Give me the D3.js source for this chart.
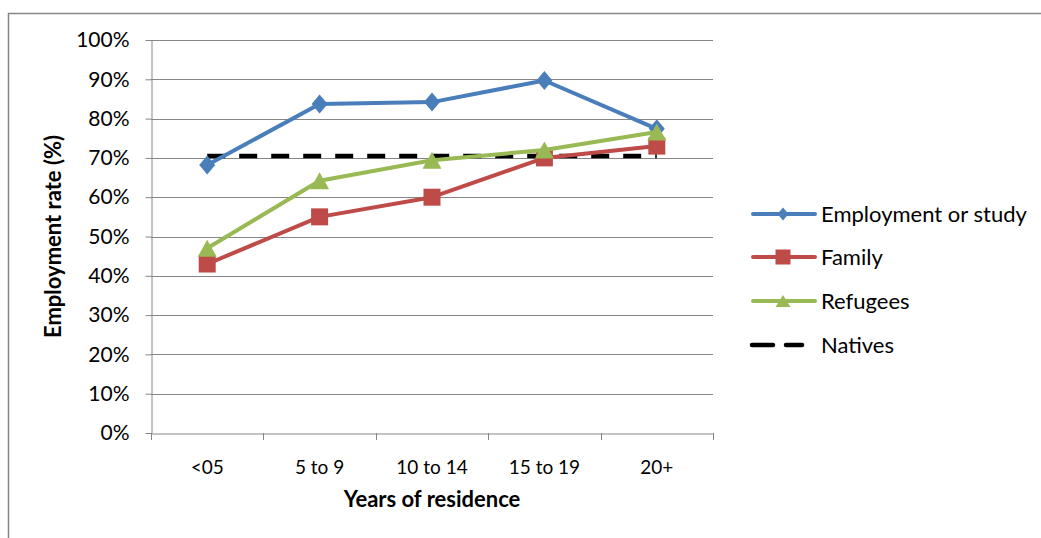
<!DOCTYPE html>
<html><head><meta charset="utf-8">
<script src="https://cdn.jsdelivr.net/npm/d3@7"></script>
<style>html,body{margin:0;padding:0;background:#fff;}svg{display:block;font-family:Lato,"Open Sans",sans-serif;}</style>
</head><body>
<svg id="c" width="1041" height="538"></svg>
<script>
const categories = ["<05", "5 to 9", "10 to 14", "15 to 19", "20+"];
const employmentOrStudy = [68.2, 83.7, 84.2, 89.7, 77.4];
const family = [43.0, 55.0, 60.0, 70.0, 73.0];
const refugees = [47.0, 64.2, 69.4, 72.0, 76.6];
const natives = [70.5, 70.5, 70.5, 70.5, 70.5];
const yTicks = [0, 10, 20, 30, 40, 50, 60, 70, 80, 90, 100];
const seriesNames = ["Employment or study", "Family", "Refugees", "Natives"];

const series = [
  {name: seriesNames[0], values: employmentOrStudy, color: "#4A7EBB", marker: "diamond"},
  {name: seriesNames[1], values: family, color: "#BE4B48", marker: "square"},
  {name: seriesNames[2], values: refugees, color: "#98B954", marker: "triangle"},
  {name: seriesNames[3], values: natives, color: "#000000", marker: null, dash: "18,14"}
];

const svg = d3.select("#c");
svg.append("path").attr("d", "M8.5,538 V13.5 H1041").attr("fill", "none").attr("stroke", "#878787").attr("stroke-width", 1.5);

const L = 151, R = 713, T = 40, B = 433;
const x = d3.scaleBand().domain(categories).range([L, R]);
const y = d3.scaleLinear().domain([0, 100]).range([B, T]);
const cx = c => x(c) + x.bandwidth() / 2;

svg.append("g").selectAll("line").data(yTicks.filter(t => t > 0)).join("line")
  .attr("x1", L).attr("x2", R).attr("y1", d => Math.round(y(d)) + 0.5).attr("y2", d => Math.round(y(d)) + 0.5)
  .attr("stroke", "#868686").attr("stroke-width", 1);

const ya = svg.append("g").attr("transform", `translate(${L + 0.5},0)`)
  .call(d3.axisLeft(y).tickValues(yTicks).tickFormat(d => d + "%").tickSize(6).tickSizeOuter(0));
ya.select(".domain").attr("stroke", "#868686");
ya.selectAll(".tick line").attr("stroke", "#868686");
ya.selectAll(".tick text").attr("font-size", 21).attr("fill", "#000").attr("x", -22).attr("font-family", "Lato, sans-serif");

const xa = svg.append("g").attr("transform", `translate(0,${B + 0.5})`)
  .call(d3.axisBottom(x).tickSize(0).tickSizeOuter(0));
xa.select(".domain").attr("stroke", "#868686");
xa.selectAll(".tick text").attr("font-size", 19).attr("fill", "#000").attr("dy", 0).attr("y", 40).attr("font-family", "Lato, sans-serif");
const bounds = categories.map(c => x(c)).concat([R]);
svg.append("g").selectAll("line").data(bounds).join("line")
  .attr("x1", d => Math.round(d) + 0.5).attr("x2", d => Math.round(d) + 0.5)
  .attr("y1", B).attr("y2", B + 7).attr("stroke", "#868686");

svg.append("text").attr("x", (L + R) / 2).attr("y", 507).attr("text-anchor", "middle")
  .attr("font-size", 22).attr("font-weight", "bold").text("Years of residence");
svg.append("text").attr("transform", `translate(61,${(T + B) / 2}) rotate(-90)`).attr("text-anchor", "middle")
  .attr("font-size", 22).attr("font-weight", "bold").text("Employment rate (%)");

const line = d3.line().x((d, i) => cx(categories[i])).y(d => y(d));

function markerPath(type, s) {
  const p = d3.path();
  if (type === "diamond") {
    const w = s.w / 2, h = s.h / 2;
    p.moveTo(0, -h); p.lineTo(w, 0); p.lineTo(0, h); p.lineTo(-w, 0); p.closePath();
  } else if (type === "square") {
    p.rect(-s.w / 2, -s.w / 2, s.w, s.w);
  } else {
    const w = s.w / 2, h = s.h / 2;
    p.moveTo(0, -h); p.lineTo(w, h); p.lineTo(-w, h); p.closePath();
  }
  return p.toString();
}
const plotSize = {diamond: {w: 16, h: 19}, square: {w: 17}, triangle: {w: 19, h: 17}};
const legSize = {diamond: {w: 11, h: 13}, square: {w: 15}, triangle: {w: 15, h: 12}};

function drawMarker(g, type, color, px, py, sz) {
  g.append("path").attr("d", markerPath(type, sz[type]))
    .attr("transform", `translate(${px},${py})`).attr("fill", color);
}

const order = [series[3], series[0], series[1], series[2]];
order.forEach(s => {
  const g = svg.append("g");
  g.append("path").datum(s.values).attr("d", line).attr("fill", "none")
    .attr("stroke", s.color).attr("stroke-width", s.dash ? 4.5 : 4)
    .attr("stroke-dasharray", s.dash || null).attr("stroke-linejoin", "round");
  if (s.marker) s.values.forEach((v, i) => drawMarker(g, s.marker, s.color, cx(categories[i]), y(v), plotSize));
});

const lg = svg.append("g");
const rows = [214, 257, 301, 345];
series.forEach((s, i) => {
  const yy = rows[i];
  if (s.dash) {
    lg.append("line").attr("x1", 752).attr("x2", 773).attr("y1", yy).attr("y2", yy)
      .attr("stroke", s.color).attr("stroke-width", 4.5).attr("stroke-linecap", "round");
    lg.append("line").attr("x1", 786).attr("x2", 802).attr("y1", yy).attr("y2", yy)
      .attr("stroke", s.color).attr("stroke-width", 4.5).attr("stroke-linecap", "round");
  } else {
    lg.append("line").attr("x1", 753).attr("x2", 815).attr("y1", yy).attr("y2", yy)
      .attr("stroke", s.color).attr("stroke-width", 4).attr("stroke-linecap", "round");
    drawMarker(lg, s.marker, s.color, 783, yy, legSize);
  }
  lg.append("text").attr("x", 821).attr("y", yy + 8).attr("font-size", 22).attr("fill", "#000").text(s.name);
});
</script>
</body></html>
